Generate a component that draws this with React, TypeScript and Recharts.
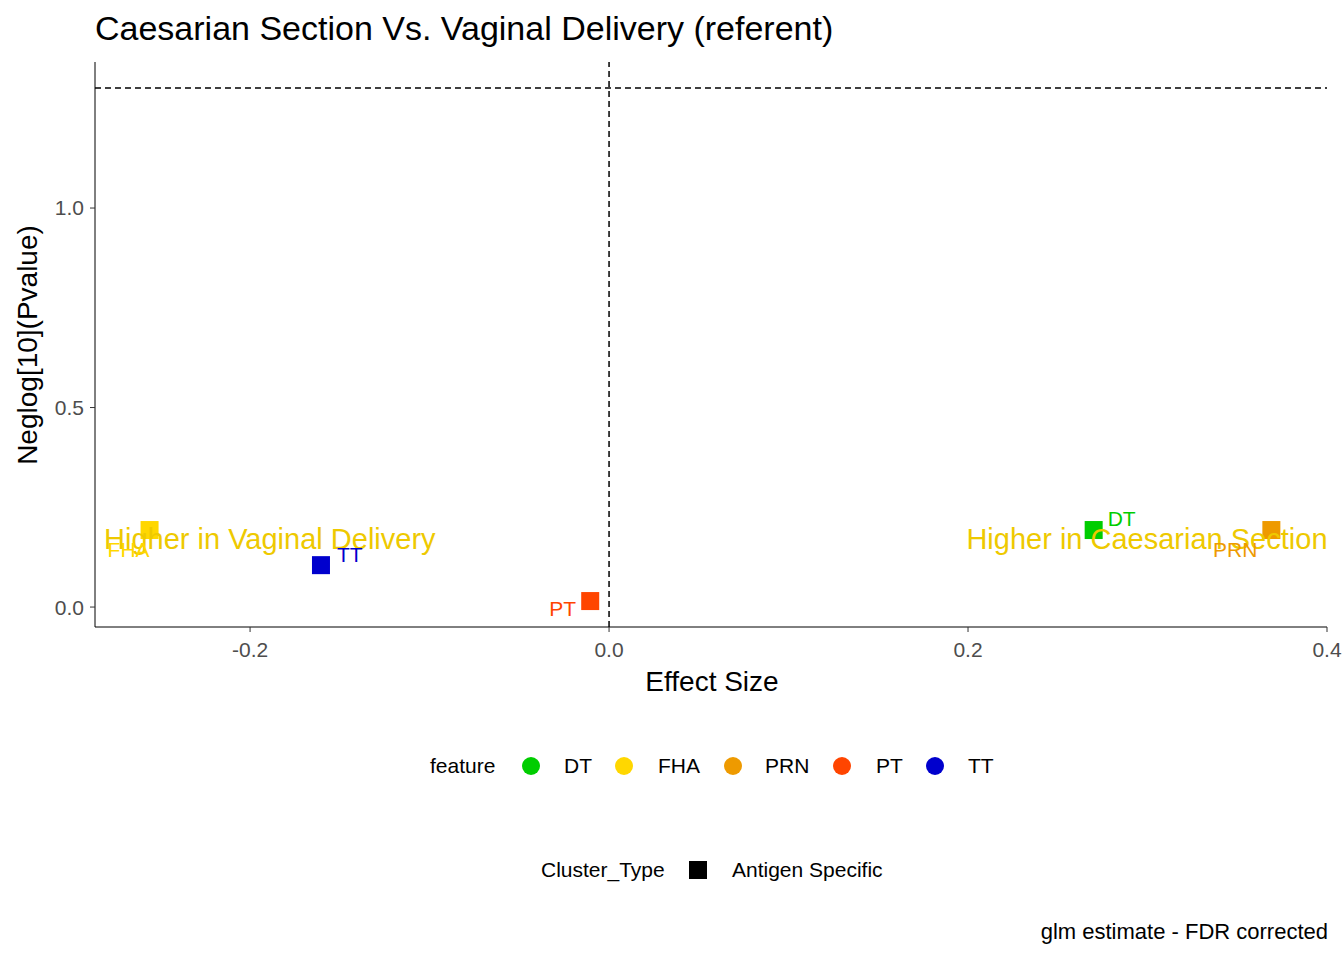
import React from 'react'
import { ScatterChart, Scatter, XAxis, YAxis, ReferenceLine, ReferenceDot, Cell, LabelList } from 'recharts'

const features = ['DT', 'FHA', 'PRN', 'PT', 'TT']
const effectSize = [0.27, -0.256, 0.369, -0.0105, -0.1605]
const negLogP = [0.193, 0.193, 0.193, 0.015, 0.105]
const xTicks = [-0.2, 0, 0.2, 0.4]
const yTicks = [0, 0.5, 1.0]
const threshold = 1.301

const COLORS: Record<string, string> = {
  DT: '#00CD00',
  FHA: '#FFD700',
  PRN: '#EE9A00',
  PT: '#FF4500',
  TT: '#0000CD',
}

// label placement relative to the marker centre
const LABEL_POS: Record<string, { dx: number; dy: number; anchor: string }> = {
  DT: { dx: 14, dy: -4, anchor: 'start' },
  FHA: { dx: 0, dy: 27, anchor: 'end' },
  PRN: { dx: -14, dy: 27, anchor: 'end' },
  PT: { dx: -14, dy: 15, anchor: 'end' },
  TT: { dx: 16, dy: -3, anchor: 'start' },
}

const data = features.map((f, i) => ({ feature: f, x: effectSize[i], y: negLogP[i] }))

const FONT = '"Liberation Sans", Arial, sans-serif'

const Square = (props: any) => {
  const { cx, cy, payload } = props
  return <rect x={cx - 9} y={cy - 9} width={18} height={18} fill={COLORS[payload.feature]} />
}

const PointLabel = (props: any) => {
  const { x, y, width, height, value } = props
  const cx = x + (width || 0) / 2
  const cy = y + (height || 0) / 2
  const p = LABEL_POS[value]
  return (
    <text x={cx + p.dx} y={cy + p.dy} textAnchor={p.anchor as any} fill={COLORS[value]} fontSize={21} fontFamily={FONT}>
      {value}
    </text>
  )
}

const note = (text: string) => (props: any) => {
  const { viewBox } = props
  return (
    <text x={viewBox.x + viewBox.width / 2} y={viewBox.y + viewBox.height / 2 + 9} textAnchor="middle" fill="#EEC900" fontSize={29} fontFamily={FONT}>
      {text}
    </text>
  )
}

export default function App() {
  const legendItems = [
    { f: 'DT', cx: 531, tx: 564 },
    { f: 'FHA', cx: 624, tx: 658 },
    { f: 'PRN', cx: 733, tx: 765 },
    { f: 'PT', cx: 842, tx: 876 },
    { f: 'TT', cx: 935, tx: 968 },
  ]
  return (
    <div style={{ position: 'absolute', left: 0, top: 0, width: 1344, height: 960, background: '#fff', fontFamily: FONT }}>
      <ScatterChart width={1344} height={960} margin={{ top: 62, right: 17, bottom: 0, left: 15 }}>
        <XAxis
          type="number" dataKey="x" domain={[-0.2864, 0.4]} ticks={xTicks} allowDataOverflow
          height={333} stroke="#000" tickLine={{ stroke: '#333' }} tickSize={5} tickMargin={10}
          tick={{ fill: '#4D4D4D', fontSize: 21, fontFamily: FONT }}
          tickFormatter={(v: number) => v.toFixed(1)}
        />
        <YAxis
          type="number" dataKey="y" domain={[-0.05, 1.366]} ticks={yTicks} allowDataOverflow
          width={80} stroke="#000" tickLine={{ stroke: '#333' }} tickSize={5} tickMargin={6}
          tick={{ fill: '#4D4D4D', fontSize: 21, fontFamily: FONT }}
          tickFormatter={(v: number) => v.toFixed(1)}
        />
        <ReferenceLine y={threshold} stroke="#000" strokeDasharray="6 4" strokeWidth={1.5} />
        <ReferenceLine x={0} stroke="#000" strokeDasharray="6 4" strokeWidth={1.5} />
        <Scatter data={data} shape={<Square />} isAnimationActive={false}>
          {data.map((d) => <Cell key={d.feature} fill={COLORS[d.feature]} />)}
          <LabelList dataKey="feature" content={<PointLabel />} />
        </Scatter>
        <ReferenceDot x={-0.189} y={0.168} r={0} label={note('Higher in Vaginal Delivery')} />
        <ReferenceDot x={0.2997} y={0.168} r={0} label={note('Higher in Caesarian Section')} />
      </ScatterChart>

      <div style={{ position: 'absolute', left: 95, top: 9, fontSize: 34, color: '#000' }}>Caesarian Section Vs. Vaginal Delivery (referent)</div>
      <div style={{ position: 'absolute', left: 712, top: 666, transform: 'translateX(-50%)', fontSize: 28 }}>Effect Size</div>
      <div style={{ position: 'absolute', left: 28, top: 345, transform: 'translate(-50%,-50%) rotate(-90deg)', fontSize: 28, whiteSpace: 'nowrap' }}>Neglog[10](Pvalue)</div>

      <div style={{ position: 'absolute', left: 430, top: 754, fontSize: 21 }}>feature</div>
      {legendItems.map((l) => (
        <React.Fragment key={l.f}>
          <div style={{ position: 'absolute', left: l.cx - 9, top: 757, width: 18, height: 18, borderRadius: 9, background: COLORS[l.f] }} />
          <div style={{ position: 'absolute', left: l.tx, top: 754, fontSize: 21 }}>{l.f}</div>
        </React.Fragment>
      ))}
      <div style={{ position: 'absolute', left: 541, top: 858, fontSize: 21 }}>Cluster_Type</div>
      <div style={{ position: 'absolute', left: 689, top: 861, width: 18, height: 18, background: '#000' }} />
      <div style={{ position: 'absolute', left: 732, top: 858, fontSize: 21 }}>Antigen Specific</div>
      <div style={{ position: 'absolute', right: 16, top: 919, fontSize: 22 }}>glm estimate - FDR corrected</div>
    </div>
  )
}
